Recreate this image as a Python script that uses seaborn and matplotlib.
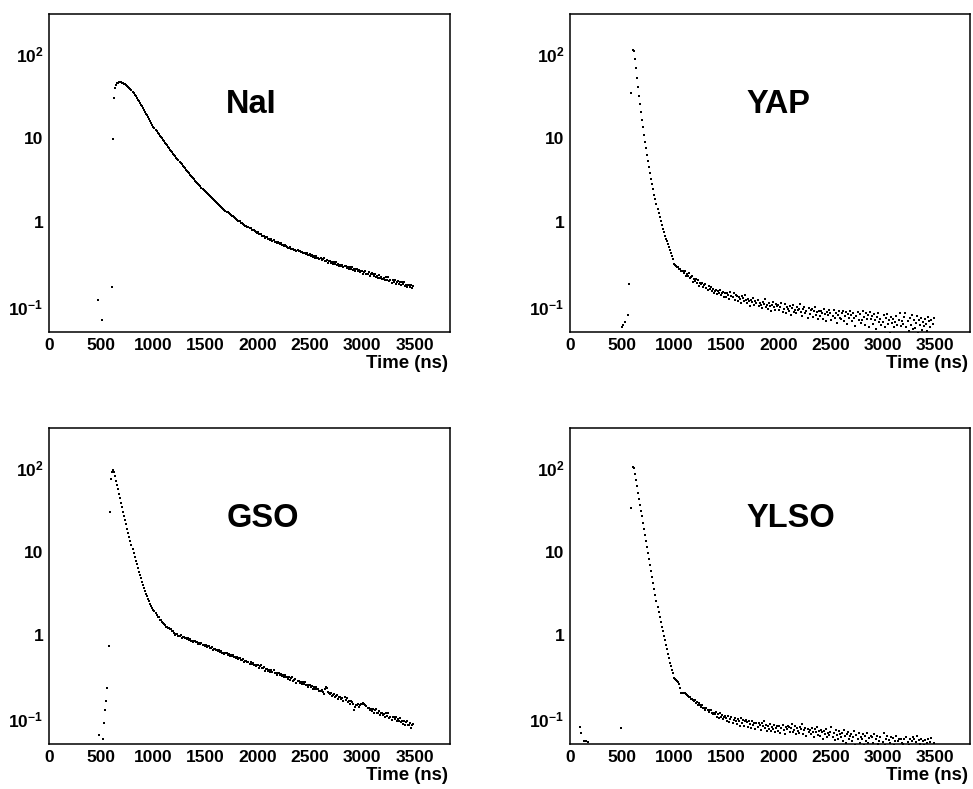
import numpy as np
import pandas as pd
import matplotlib
matplotlib.use("Agg")
import matplotlib.pyplot as plt
import seaborn as sns
from matplotlib.ticker import LogLocator, MultipleLocator, FixedLocator, NullFormatter

# ---------------------------------------------------------------------------
# Scintillation pulse shapes (counts per 10 ns time bin)
# ---------------------------------------------------------------------------
BIN_NS = 10

# --- NaI ---
nai_early_t = [470, 510, 600]
nai_early_v = [0.12, 0.07, 0.17]
nai_start = 610
nai_counts = [
    9.8, 30, 39.5, 43.2, 45.0, 45.9, 46.3, 46.4, 46.3,
    45.9, 45.4, 44.7, 43.9, 43.0, 42.0, 40.9, 39.7, 38.5, 37.2,
    36.0, 34.4, 32.9, 31.5, 30.1, 28.8, 27.6, 26.4, 25.2, 24.1,
    23.0, 21.8, 20.7, 19.7, 18.7, 17.8, 16.9, 16.0, 15.2, 14.4,
    13.7, 13.2, 12.7, 12.2, 11.7, 11.2, 10.8, 10.4, 9.97, 9.60,
    9.23, 8.88, 8.55, 8.23, 7.92, 7.62, 7.34, 7.07, 6.81, 6.56,
    6.32, 6.09, 5.87, 5.66, 5.46, 5.26, 5.08, 4.90, 4.73, 4.56,
    4.40, 4.25, 4.11, 3.97, 3.84, 3.71, 3.59, 3.47, 3.36, 3.25,
    3.14, 3.04, 2.95, 2.86, 2.77, 2.68, 2.60, 2.52, 2.44, 2.37,
    2.30, 2.23, 2.17, 2.11, 2.05, 1.99, 1.94, 1.88, 1.83, 1.78,
    1.73, 1.69, 1.64, 1.60, 1.56, 1.52, 1.48, 1.45, 1.42, 1.38,
    1.35, 1.32, 1.29, 1.26, 1.23, 1.20, 1.18, 1.15, 1.13, 1.10,
    1.08, 1.05, 1.04, 1.03, 0.99, 0.98, 0.955, 0.945, 0.92, 0.91,
    0.885, 0.88, 0.855, 0.85, 0.825, 0.82, 0.81, 0.785, 0.78, 0.76,
    0.761, 0.728, 0.734, 0.736, 0.700, 0.694, 0.700, 0.662, 0.668, 0.667,
    0.641, 0.644, 0.621, 0.634, 0.611, 0.622, 0.592, 0.591, 0.570, 0.579,
    0.576, 0.559, 0.566, 0.539, 0.545, 0.530, 0.543, 0.520, 0.517, 0.502,
    0.502, 0.509, 0.482, 0.489, 0.489, 0.472, 0.476, 0.460, 0.471, 0.455,
    0.464, 0.444, 0.444, 0.429, 0.438, 0.436, 0.424, 0.430, 0.410, 0.415,
    0.417, 0.401, 0.413, 0.385, 0.398, 0.382, 0.401, 0.379, 0.379, 0.365,
    0.379, 0.357, 0.369, 0.375, 0.351, 0.350, 0.362, 0.334, 0.345, 0.349,
    0.332, 0.339, 0.323, 0.340, 0.324, 0.337, 0.315, 0.318, 0.303, 0.316,
    0.307, 0.316, 0.292, 0.302, 0.305, 0.290, 0.296, 0.282, 0.297, 0.283,
    0.294, 0.275, 0.279, 0.265, 0.277, 0.277, 0.267, 0.275, 0.257, 0.265,
    0.268, 0.246, 0.260, 0.268, 0.243, 0.245, 0.258, 0.230, 0.243, 0.248,
    0.246, 0.233, 0.246, 0.223, 0.234, 0.222, 0.241, 0.222, 0.223, 0.211,
    0.212, 0.220, 0.205, 0.224, 0.209, 0.223, 0.202, 0.207, 0.193, 0.206,
    0.199, 0.209, 0.186, 0.197, 0.201, 0.187, 0.194, 0.181, 0.196, 0.184,
    0.196, 0.178, 0.182, 0.169, 0.182, 0.182, 0.173, 0.182, 0.165, 0.174,
]

# --- YAP ---
yap_early_t = [500, 510, 530, 560, 570]
yap_early_v = [0.057, 0.061, 0.066, 0.080, 0.185]
yap_start = 590
yap_counts = [
    34.5,
    113, 110, 88, 68.4, 52.7, 40.7, 32.0, 25.4, 20.4, 16.5,
    13.5, 11.1, 9.16, 7.62, 6.38, 5.37, 4.55, 3.87, 3.31, 2.85,
    2.47, 2.15, 1.88, 1.65, 1.46, 1.29, 1.15, 1.03, 0.929, 0.839,
    0.762, 0.700, 0.645, 0.596, 0.550, 0.507, 0.468, 0.432, 0.398, 0.367,
    0.324, 0.310, 0.308, 0.294, 0.295, 0.279, 0.281, 0.266, 0.268, 0.254,
    0.262, 0.232, 0.246, 0.231, 0.250, 0.218, 0.224, 0.231, 0.199, 0.216,
    0.202, 0.211, 0.191, 0.208, 0.176, 0.192, 0.184, 0.191, 0.170, 0.180,
    0.187, 0.168, 0.159, 0.174, 0.163, 0.173, 0.155, 0.163, 0.145, 0.155,
    0.159, 0.142, 0.152, 0.144, 0.158, 0.139, 0.146, 0.151, 0.132, 0.145,
    0.131, 0.146, 0.139, 0.125, 0.150, 0.133, 0.129, 0.144, 0.121, 0.138,
    0.135, 0.118, 0.129, 0.124, 0.112, 0.133, 0.127, 0.116, 0.138, 0.120,
    0.110, 0.124, 0.118, 0.103, 0.121, 0.113, 0.128, 0.106, 0.117, 0.111,
    0.119, 0.101, 0.112, 0.104, 0.097, 0.115, 0.109, 0.122, 0.099, 0.106,
    0.095, 0.110, 0.103, 0.089, 0.106, 0.113, 0.098, 0.092, 0.108, 0.101,
    0.104, 0.091, 0.099, 0.112, 0.087, 0.095, 0.107, 0.085, 0.100, 0.093,
    0.089, 0.101, 0.080, 0.096, 0.104, 0.087, 0.092, 0.083, 0.099, 0.091,
    0.095, 0.108, 0.086, 0.078, 0.093, 0.100, 0.084, 0.089, 0.074, 0.097,
    0.082, 0.091, 0.095, 0.076, 0.088, 0.099, 0.080, 0.086, 0.071, 0.090,
    0.078, 0.089, 0.083, 0.072, 0.094, 0.081, 0.067, 0.086, 0.079, 0.091,
    0.085, 0.070, 0.077, 0.092, 0.074, 0.083, 0.064, 0.079, 0.088, 0.073,
    0.071, 0.084, 0.090, 0.068, 0.077, 0.086, 0.062, 0.081, 0.074, 0.089,
    0.080, 0.067, 0.085, 0.073, 0.059, 0.078, 0.087, 0.070, 0.082, 0.064,
    0.069, 0.088, 0.076, 0.061, 0.083, 0.072, 0.079, 0.057, 0.086, 0.071,
    0.077, 0.063, 0.082, 0.070, 0.055, 0.075, 0.084, 0.066, 0.072, 0.060,
    0.066, 0.079, 0.058, 0.073, 0.081, 0.062, 0.069, 0.049, 0.075, 0.064,
    0.072, 0.057, 0.066, 0.078, 0.061, 0.046, 0.070, 0.083, 0.059, 0.067,
    0.063, 0.075, 0.084, 0.058, 0.068, 0.052, 0.073, 0.061, 0.079, 0.055,
    0.070, 0.056, 0.064, 0.077, 0.048, 0.069, 0.060, 0.074, 0.053, 0.066,
    0.059, 0.072, 0.063, 0.051, 0.076, 0.067, 0.057, 0.070, 0.062, 0.074,
]

# --- GSO ---
gso_early_t = [480, 520, 530, 540, 550, 560, 570, 580, 590]
gso_early_v = [0.064, 0.058, 0.090, 0.128, 0.163, 0.235, 0.75, 29.5, 74]
gso_start = 600
gso_counts = [
    90, 93.5, 90, 80.0, 70.6, 62.4, 55.2, 48.9, 43.2, 38.3,
    33.9, 30.1, 26.7, 23.7, 21.1, 18.8, 16.7, 14.9, 13.3, 11.9,
    10.7, 9.58, 8.61, 7.75, 7.01, 6.34, 5.75, 5.23, 4.77, 4.36,
    4.00, 3.68, 3.40, 3.14, 2.93, 2.72, 2.55, 2.39, 2.25, 2.13,
    2.01, 1.92, 1.83, 1.75, 1.67, 1.63, 1.53, 1.51, 1.43, 1.41,
    1.35, 1.34, 1.27, 1.27, 1.22, 1.22, 1.17, 1.17, 1.13, 1.12,
    1.054, 1.006, 1.023, 1.033, 0.980, 0.976, 0.992, 0.934, 0.951, 0.953,
    0.917, 0.926, 0.890, 0.918, 0.884, 0.905, 0.858, 0.861, 0.827, 0.848,
    0.845, 0.818, 0.832, 0.789, 0.803, 0.777, 0.801, 0.766, 0.762, 0.738,
    0.756, 0.722, 0.734, 0.741, 0.703, 0.700, 0.713, 0.671, 0.682, 0.684,
    0.658, 0.665, 0.639, 0.659, 0.634, 0.650, 0.616, 0.618, 0.594, 0.608,
    0.606, 0.587, 0.597, 0.566, 0.576, 0.557, 0.575, 0.549, 0.547, 0.530,
    0.542, 0.518, 0.527, 0.532, 0.505, 0.502, 0.512, 0.481, 0.490, 0.491,
    0.472, 0.477, 0.458, 0.473, 0.455, 0.466, 0.442, 0.443, 0.426, 0.437,
    0.439, 0.409, 0.425, 0.435, 0.400, 0.401, 0.415, 0.378, 0.393, 0.397,
    0.375, 0.385, 0.362, 0.385, 0.364, 0.380, 0.351, 0.356, 0.335, 0.352,
    0.352, 0.336, 0.348, 0.321, 0.333, 0.317, 0.337, 0.314, 0.315, 0.300,
    0.315, 0.293, 0.305, 0.312, 0.287, 0.288, 0.298, 0.271, 0.281, 0.285,
    0.268, 0.275, 0.259, 0.276, 0.260, 0.274, 0.252, 0.255, 0.240, 0.252,
    0.253, 0.241, 0.250, 0.230, 0.239, 0.227, 0.242, 0.225, 0.226, 0.215,
    0.215, 0.224, 0.212, 0.197, 0.225, 0.238, 0.232, 0.212, 0.205, 0.198,
    0.203, 0.188, 0.195, 0.200, 0.184, 0.185, 0.192, 0.174, 0.181, 0.183,
    0.171, 0.178, 0.164, 0.180, 0.166, 0.179, 0.159, 0.164, 0.150, 0.163,
    0.160, 0.152, 0.128, 0.140, 0.147, 0.145, 0.150, 0.138, 0.146, 0.152,
    0.150, 0.155, 0.152, 0.148, 0.143, 0.136, 0.133, 0.127, 0.131, 0.124,
    0.132, 0.119, 0.126, 0.132, 0.118, 0.118, 0.125, 0.110, 0.116, 0.119,
    0.110, 0.115, 0.105, 0.116, 0.107, 0.116, 0.103, 0.105, 0.0965, 0.105,
    0.106, 0.0992, 0.105, 0.0934, 0.0994, 0.0930, 0.102, 0.0927, 0.0933, 0.0873,
    0.0946, 0.0854, 0.0909, 0.0947, 0.0842, 0.0847, 0.090, 0.0783, 0.0835, 0.0856,
]

# --- YLSO ---
ylso_early_t = [100, 110, 130, 150, 170, 490]
ylso_early_v = [0.079, 0.068, 0.055, 0.054, 0.053, 0.077]
ylso_start = 590
ylso_counts = [
    33.6,
    103, 98.9, 85.5, 71.9, 60.5, 50.8, 42.9, 36.3, 30.9, 26.3,
    22.2, 18.7, 15.8, 13.3, 11.3, 9.59, 8.17, 6.89, 5.78, 4.92,
    4.22, 3.60, 3.05, 2.58, 2.20, 1.90, 1.64, 1.43, 1.26, 1.11,
    0.982, 0.87, 0.77, 0.68, 0.60, 0.53, 0.468, 0.425, 0.385, 0.350,
    0.310, 0.300, 0.292, 0.283, 0.272, 0.258, 0.235, 0.206, 0.203, 0.205,
    0.204, 0.197, 0.193, 0.188, 0.182, 0.180, 0.173, 0.172, 0.166, 0.164,
    0.170, 0.155, 0.160, 0.145, 0.155, 0.147, 0.138, 0.148, 0.135, 0.136,
    0.128, 0.135, 0.127, 0.120, 0.126, 0.128, 0.118, 0.113, 0.119, 0.115,
    0.120, 0.106, 0.114, 0.101, 0.117, 0.106, 0.111, 0.100, 0.106, 0.109,
    0.103, 0.094, 0.108, 0.091, 0.099, 0.105, 0.088, 0.097, 0.102, 0.093,
    0.087, 0.099, 0.094, 0.083, 0.101, 0.090, 0.096, 0.081, 0.093, 0.098,
    0.091, 0.080, 0.095, 0.086, 0.078, 0.093, 0.084, 0.089, 0.076, 0.090,
    0.079, 0.090, 0.085, 0.074, 0.088, 0.081, 0.093, 0.077, 0.084, 0.072,
    0.083, 0.075, 0.087, 0.071, 0.080, 0.076, 0.085, 0.070, 0.078, 0.082,
    0.072, 0.081, 0.068, 0.078, 0.085, 0.073, 0.066, 0.080, 0.075, 0.083,
    0.079, 0.070, 0.077, 0.086, 0.069, 0.074, 0.081, 0.065, 0.078, 0.072,
    0.068, 0.080, 0.075, 0.086, 0.066, 0.073, 0.078, 0.063, 0.076, 0.070,
    0.074, 0.065, 0.078, 0.069, 0.061, 0.075, 0.070, 0.080, 0.064, 0.072,
    0.063, 0.073, 0.069, 0.058, 0.071, 0.066, 0.076, 0.060, 0.068, 0.064,
    0.070, 0.079, 0.061, 0.067, 0.056, 0.073, 0.064, 0.058, 0.071, 0.065,
    0.060, 0.068, 0.055, 0.074, 0.063, 0.052, 0.066, 0.070, 0.058, 0.062,
    0.066, 0.054, 0.061, 0.071, 0.049, 0.064, 0.058, 0.067, 0.052, 0.060,
    0.057, 0.065, 0.048, 0.062, 0.054, 0.068, 0.051, 0.059, 0.046, 0.063,
    0.061, 0.052, 0.066, 0.047, 0.057, 0.063, 0.050, 0.055, 0.060, 0.045,
    0.053, 0.068, 0.049, 0.058, 0.062, 0.044, 0.056, 0.051, 0.060, 0.047,
    0.059, 0.048, 0.055, 0.063, 0.046, 0.054, 0.058, 0.043, 0.057, 0.052,
    0.050, 0.058, 0.045, 0.061, 0.053, 0.049, 0.057, 0.042, 0.055, 0.060,
    0.057, 0.046, 0.053, 0.062, 0.044, 0.056, 0.050, 0.058, 0.041, 0.054,
    0.049, 0.056, 0.043, 0.052, 0.058, 0.045, 0.053, 0.059, 0.047, 0.051,
]

crystal_names = ["NaI", "YAP", "GSO", "YLSO"]
x_label = "Time (ns)"
y_tick_values = [0.1, 1, 10, 100]
y_tick_labels = [r"$\mathbf{10^{-1}}$", "1", "10", r"$\mathbf{10^{2}}$"]
x_tick_values = [0, 500, 1000, 1500, 2000, 2500, 3000, 3500]


def pulse_frame(early_t, early_v, start, counts):
    t_main = start + BIN_NS * np.arange(len(counts))
    return pd.DataFrame({
        "time": np.concatenate([np.asarray(early_t, float), t_main]),
        "counts": np.concatenate([np.asarray(early_v, float),
                                  np.asarray(counts, float)]),
    })


frames = {
    "NaI": pulse_frame(nai_early_t, nai_early_v, nai_start, nai_counts),
    "YAP": pulse_frame(yap_early_t, yap_early_v, yap_start, yap_counts),
    "GSO": pulse_frame(gso_early_t, gso_early_v, gso_start, gso_counts),
    "YLSO": pulse_frame(ylso_early_t, ylso_early_v, ylso_start, ylso_counts),
}

# ---------------------------------------------------------------------------
# Styling
# ---------------------------------------------------------------------------
sns.set_theme(style="white")
plt.rcParams["font.family"] = ["Liberation Sans", "DejaVu Sans"]
plt.rcParams["font.weight"] = "bold"
plt.rcParams["text.color"] = "black"
plt.rcParams["axes.labelcolor"] = "black"
plt.rcParams["xtick.color"] = "black"
plt.rcParams["ytick.color"] = "black"
plt.rcParams["mathtext.fontset"] = "custom"
plt.rcParams["mathtext.rm"] = "Liberation Sans:bold"
plt.rcParams["mathtext.bf"] = "Liberation Sans:bold"
plt.rcParams["mathtext.it"] = "Liberation Sans:bold"

W, H = 973, 789
fig = plt.figure(figsize=(W / 100, H / 100), dpi=100)
fig.patch.set_facecolor("white")

# panel boxes in pixels: left, top, right, bottom
boxes = {
    "NaI": (49, 14, 450, 332),
    "YAP": (570, 14, 970, 332),
    "GSO": (49, 428, 450, 744),
    "YLSO": (570, 428, 970, 744),
}

for name in crystal_names:
    l, t, r, b = boxes[name]
    ax = fig.add_axes([l / W, (H - b) / H, (r - l) / W, (b - t) / H])
    ax.set_yscale("log")
    sns.scatterplot(data=frames[name], x="time", y="counts", ax=ax,
                    marker="s", s=2.8, color="black", linewidth=0,
                    legend=False)
    ax.set_xlim(0, 3840)
    ax.set_ylim(0.05, 300)
    ax.set_xlabel("")
    ax.set_ylabel("")

    ax.xaxis.set_major_locator(FixedLocator(x_tick_values))
    ax.xaxis.set_minor_locator(MultipleLocator(100))
    ax.set_xticklabels([str(v) for v in x_tick_values])
    ax.yaxis.set_major_locator(FixedLocator(y_tick_values))
    ax.set_yticklabels(y_tick_labels)
    ax.yaxis.set_minor_locator(LogLocator(base=10, subs=np.arange(2, 10)))
    ax.yaxis.set_minor_formatter(NullFormatter())

    ax.tick_params(axis="both", which="both", direction="in",
                   top=False, right=False, colors="black", width=0.8)
    ax.tick_params(axis="x", which="major", length=6, pad=4.5,
                   labelsize=12.5)
    ax.tick_params(axis="x", which="minor", length=3)
    ax.tick_params(axis="y", which="major", length=8, pad=4,
                   labelsize=12.5)
    ax.tick_params(axis="y", which="minor", length=4)
    for lab in ax.get_xticklabels() + ax.get_yticklabels():
        lab.set_fontweight("bold")
        lab.set_color("black")

    for sp in ax.spines.values():
        sp.set_visible(True)
        sp.set_color("black")
        sp.set_linewidth(1.1)
    ax.grid(False)

    ax.text(0.995, -0.072, x_label, transform=ax.transAxes, ha="right",
            va="top", fontsize=13.4, fontweight="bold", color="black")
    ax.text(0.442, 0.714, name, transform=ax.transAxes, ha="left",
            va="center", fontsize=23.5, fontweight="bold", color="black")

fig.savefig("out.png", dpi=100, facecolor="white")
